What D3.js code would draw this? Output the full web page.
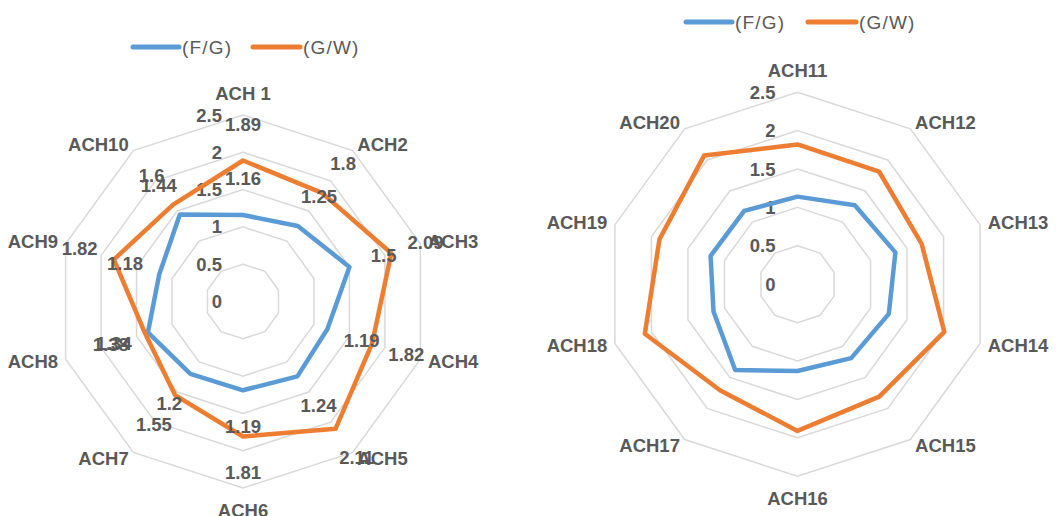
<!DOCTYPE html>
<html>
<head>
<meta charset="utf-8">
<script src="https://cdn.jsdelivr.net/npm/d3@7"></script>
<style>
html,body{margin:0;padding:0;background:#fff;}
svg{display:block;}
</style>
</head>
<body>
<svg id="chart" width="1059" height="516"></svg>
<script>
const seriesNames = ["(F/G)", "(G/W)"];
const tickValues = [0, 0.5, 1, 1.5, 2, 2.5];
const tickLabels = ["0", "0.5", "1", "1.5", "2", "2.5"];

const categoriesLeft = ["ACH 1","ACH2","ACH3","ACH4","ACH5","ACH6","ACH7","ACH8","ACH9","ACH10"];
const fgLeft = [1.16, 1.25, 1.5, 1.19, 1.24, 1.19, 1.2, 1.34, 1.18, 1.44];
const gwLeft = [1.89, 1.8, 2.09, 1.82, 2.11, 1.81, 1.55, 1.38, 1.82, 1.6];

const categoriesRight = ["ACH11","ACH12","ACH13","ACH14","ACH15","ACH16","ACH17","ACH18","ACH19","ACH20"];
const fgRight = [1.14, 1.27, 1.34, 1.25, 1.19, 1.13, 1.38, 1.15, 1.19, 1.18];
const gwRight = [1.82, 1.81, 1.70, 2.01, 1.81, 1.91, 1.71, 2.09, 1.89, 2.07];

const colors = ["#5b9bd5", "#ed7d31"];
const textColor = "#595959";
const gridColor = "#d9d9d9";
const FONT = "'Liberation Sans', Arial, sans-serif";
const FS = 18.5;

const svg = d3.select("#chart");

function radar(cfg) {
  const g = svg.append("g").attr("transform", `translate(${cfg.cx},${cfg.cy})`);
  const n = cfg.categories.length;
  const r = d3.scaleLinear().domain([0, 2.5]).range([0, cfg.R]);
  const ang = d3.scaleLinear().domain([0, n]).range([0, 2 * Math.PI]);
  const pt = (i, rad) => [rad * Math.sin(ang(i)), -rad * Math.cos(ang(i))];

  // grid rings
  const idx = d3.range(n);
  tickValues.filter(v => v > 0).forEach(v => {
    g.append("path")
      .attr("d", d3.line().curve(d3.curveLinearClosed)(idx.map(i => pt(i, r(v)))))
      .attr("fill", "none").attr("stroke", gridColor).attr("stroke-width", 1.5);
  });

  // tick labels
  tickValues.forEach((v, k) => {
    g.append("text")
      .attr("x", -cfg.tickDx).attr("y", -r(v))
      .attr("text-anchor", "end").attr("dominant-baseline", "central")
      .attr("font-family", FONT).attr("font-weight", "bold").attr("font-size", FS)
      .attr("fill", textColor).text(tickLabels[k]);
  });

  // series
  const lineR = d3.lineRadial().curve(d3.curveLinearClosed)
    .angle((d, i) => ang(i)).radius(d => r(d));
  cfg.series.forEach((s, k) => {
    g.append("path").attr("d", lineR(s))
      .attr("fill", "none").attr("stroke", colors[k]).attr("stroke-width", 4.5)
      .attr("stroke-linejoin", "round");
  });

  // data labels
  if (cfg.dataLabels) {
    cfg.series.forEach((s, k) => {
      s.forEach((v, i) => {
        const p = pt(i, r(v) + 36);
        g.append("text").attr("x", p[0]).attr("y", p[1])
          .attr("text-anchor", "middle").attr("dominant-baseline", "central")
          .attr("font-family", FONT).attr("font-weight", "bold").attr("font-size", FS)
          .attr("fill", textColor).text(d3.format("")(v));
      });
    });
  }

  // category labels
  cfg.categories.forEach((c, i) => {
    const s = Math.sin(ang(i));
    let p, anchor = "middle";
    if (Math.abs(s) < 0.1) {
      p = pt(i, cfg.R + 22);
    } else {
      p = pt(i, cfg.R + 8);
      anchor = s > 0 ? "start" : "end";
    }
    g.append("text").attr("x", p[0]).attr("y", p[1])
      .attr("text-anchor", anchor).attr("dominant-baseline", "central")
      .attr("font-family", FONT).attr("font-weight", "bold").attr("font-size", FS)
      .attr("fill", textColor).text(c);
  });

  // legend
  const lg = svg.append("g");
  cfg.legend.forEach((L, k) => {
    lg.append("line").attr("x1", L.x1).attr("x2", L.x2).attr("y1", cfg.legendY).attr("y2", cfg.legendY)
      .attr("stroke", colors[k]).attr("stroke-width", 5).attr("stroke-linecap", "round");
    lg.append("text").attr("x", L.x2 + 3).attr("y", cfg.legendY)
      .attr("dominant-baseline", "central")
      .attr("font-family", FONT).attr("font-size", 19).attr("letter-spacing", 1.2)
      .attr("fill", textColor).text(seriesNames[k]);
  });
}

radar({
  cx: 243, cy: 301.5, R: 186.5, tickDx: 21,
  categories: categoriesLeft, series: [fgLeft, gwLeft], dataLabels: true,
  legendY: 47, legend: [{x1: 133, x2: 179}, {x1: 253, x2: 300}]
});
radar({
  cx: 797.5, cy: 284.2, R: 192, tickDx: 22,
  categories: categoriesRight, series: [fgRight, gwRight], dataLabels: false,
  legendY: 22, legend: [{x1: 686, x2: 732}, {x1: 808, x2: 856}]
});
</script>
</body>
</html>
